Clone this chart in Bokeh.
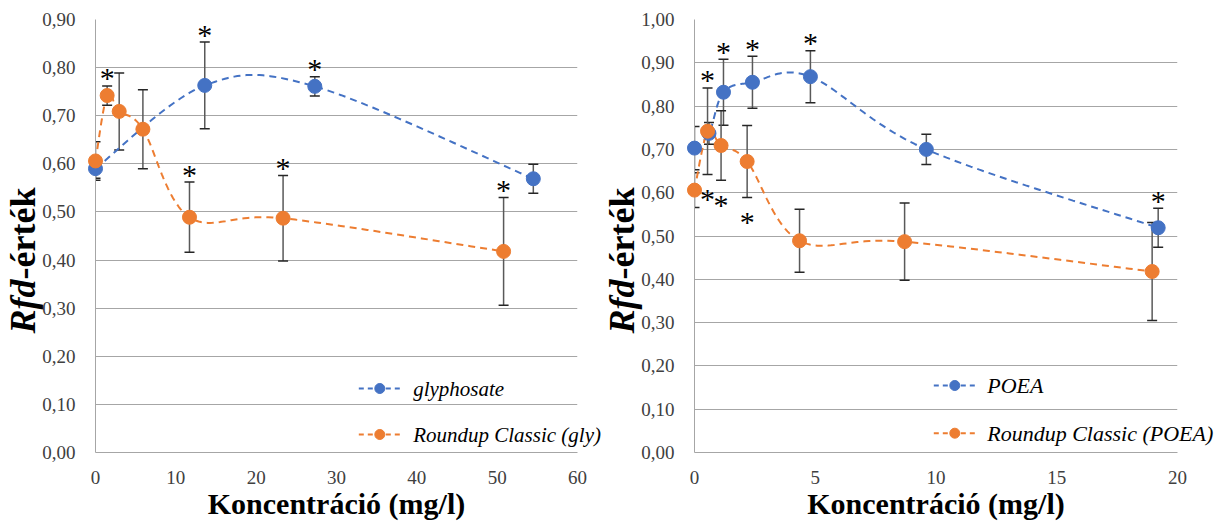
import math
import numpy as np
from bokeh.plotting import figure
from bokeh.models import (Range1d, FixedTicker, CustomJSTickFormatter, Whisker, ColumnDataSource,
                          TeeHead)
from bokeh.layouts import row
from bokeh.core.properties import value
from bokeh.embed import file_html
from bokeh.resources import INLINE

# ---------------- data (left panel) ----------------
gly_x = [0, 13.6, 27.3, 54.5]
gly_y = [0.590, 0.763, 0.761, 0.569]
gly_err = [0.020, 0.090, 0.020, 0.030]
gly_star_above = [1, 2]

rc_gly_x = [0, 1.45, 2.95, 5.9, 11.7, 23.35, 50.8]
rc_gly_y = [0.606, 0.742, 0.709, 0.672, 0.489, 0.487, 0.418]
rc_gly_err = [0.040, 0.020, 0.080, 0.082, 0.073, 0.089, 0.112]
rc_gly_star_above = [1, 4, 5, 6]

left_x_ticks = [0, 10, 20, 30, 40, 50, 60]
left_y_ticks = [0.0, 0.1, 0.2, 0.3, 0.4, 0.5, 0.6, 0.7, 0.8, 0.9]

# ---------------- data (right panel) ----------------
poea_x = [0, 0.6, 1.2, 2.4, 4.8, 9.6, 19.2]
poea_y = [0.703, 0.737, 0.832, 0.855, 0.868, 0.700, 0.519]
poea_err = [0.050, 0.025, 0.076, 0.060, 0.060, 0.035, 0.045]
poea_star_above = [2, 3, 4, 6]

rc_poea_x = [0, 0.54, 1.1, 2.18, 4.35, 8.7, 18.95]
rc_poea_y = [0.606, 0.742, 0.709, 0.672, 0.489, 0.487, 0.418]
rc_poea_err = [0.040, 0.100, 0.080, 0.083, 0.073, 0.089, 0.113]
rc_poea_star_above = [1]
rc_poea_star_below = [1, 2, 3]

right_x_ticks = [0, 5, 10, 15, 20]
right_y_ticks = [0.0, 0.1, 0.2, 0.3, 0.4, 0.5, 0.6, 0.7, 0.8, 0.9, 1.0]

x_title = "Koncentráció (mg/l)"
y_title_italic = "Rfd"
y_title_rest = "-érték"
BLUE = "#4472C4"
ORANGE = "#ED7D31"
FONT = "Liberation Serif"
HEIGHT = 523
TOP = 19
BOTTOM = 71
YT_SIZE = 36


def smooth(xs, ys, n=30):
    """Excel-style smoothed line (cubic Bezier through the points)."""
    pts = list(zip(xs, ys))
    N = len(pts)
    ox, oy = [], []
    for i in range(N - 1):
        p0 = pts[i - 1] if i > 0 else pts[i]
        p1 = pts[i]
        p2 = pts[i + 1]
        p3 = pts[i + 2] if i + 2 < N else pts[i + 1]
        c1 = (p1[0] + (p2[0] - p0[0]) / 6, p1[1] + (p2[1] - p0[1]) / 6)
        c2 = (p2[0] - (p3[0] - p1[0]) / 6, p2[1] - (p3[1] - p1[1]) / 6)
        for t in np.linspace(0, 1, n, endpoint=(i == N - 2)):
            a, b, c, d = (1 - t) ** 3, 3 * (1 - t) ** 2 * t, 3 * (1 - t) * t ** 2, t ** 3
            ox.append(a * p1[0] + b * c1[0] + c * c2[0] + d * p2[0])
            oy.append(a * p1[1] + b * c1[1] + c * c2[1] + d * p2[1])
    return ox, oy


def add_series(p, xs, ys, errs, color, above, below):
    sx, sy = smooth(xs, ys)
    p.line(sx, sy, line_color=color, line_width=2, line_dash="7 5")
    src = ColumnDataSource(dict(x=xs, y=ys,
                                upper=[y + e for y, e in zip(ys, errs)],
                                lower=[y - e for y, e in zip(ys, errs)]))
    w = Whisker(source=src, base="x", upper="upper", lower="lower",
                line_color="#595959", line_width=1.5,
                upper_head=TeeHead(size=10, line_color="#262626", line_width=1.5),
                lower_head=TeeHead(size=10, line_color="#262626", line_width=1.5))
    p.add_layout(w)
    p.scatter("x", "y", source=src, size=14, fill_color=color, line_color=color,
              level="annotation")
    star = dict(text_font=value(FONT), text_font_size="30px", text_align="center",
                text_baseline="middle", text_color="black", level="annotation")
    if above:
        p.text([xs[i] for i in above], [ys[i] + errs[i] for i in above],
               text=["*"] * len(above), y_offset=-8, **star)
    if below:
        p.text([xs[i] for i in below], [ys[i] - errs[i] for i in below],
               text=["*"] * len(below), y_offset=24, **star)


def make_panel(origin, width, bl, br, xmax, ymax, xticks, yticks, series, leg_px, leg_size,
               ylab_px):
    p = figure(width=width, height=HEIGHT, output_backend="svg", toolbar_location=None,
               x_range=Range1d(0, xmax), y_range=Range1d(0, ymax),
               min_border_left=bl, min_border_right=br, min_border_top=TOP,
               min_border_bottom=BOTTOM)
    p.outline_line_color = None
    p.xgrid.visible = False
    p.ygrid.grid_line_color = "#a6a6a6"
    p.ygrid.grid_line_width = 1
    p.xaxis.ticker = FixedTicker(ticks=xticks)
    p.yaxis.ticker = FixedTicker(ticks=yticks)
    p.yaxis.formatter = CustomJSTickFormatter(code="return tick.toFixed(2).replace('.', ',');")
    for ax in (p.xaxis, p.yaxis):
        ax.axis_line_color = "#a6a6a6"
        ax.major_tick_line_color = None
        ax.minor_tick_line_color = None
        ax.major_label_text_font = FONT
        ax.major_label_text_font_size = "19px"
        ax.major_label_text_color = "#404040"
    p.yaxis.major_label_standoff = 14
    p.xaxis.major_label_standoff = 12
    p.xaxis.axis_label = x_title
    p.xaxis.axis_label_text_font = FONT
    p.xaxis.axis_label_text_font_size = "30px"
    p.xaxis.axis_label_text_font_style = "bold"
    p.xaxis.axis_label_text_color = "black"
    p.xaxis.axis_label_standoff = 0

    # pixel -> data helpers (page pixels)
    fl = origin + bl
    fw = width - bl - br
    fb = HEIGHT - BOTTOM
    fh = HEIGHT - BOTTOM - TOP
    dx = lambda px: (px - fl) / fw * xmax
    dy = lambda py: (fb - py) / fh * ymax

    for (xs, ys, errs, color, label, above, below) in series:
        add_series(p, xs, ys, errs, color, above, below)

    # legend (drawn manually so it may run past the plot frame, as in the original)
    gx0, tx, rows_y = leg_px
    for (xs, ys, errs, color, label, above, below), cy in zip(series, rows_y):
        p.segment(x0=[dx(gx0)], y0=[dy(cy)], x1=[dx(gx0 + 42)], y1=[dy(cy)],
                  line_color=color, line_width=2, line_dash="5 4", level="overlay")
        p.scatter([dx(gx0 + 21)], [dy(cy)], size=10, fill_color=color, line_color=color,
                  level="overlay")
        p.text([dx(tx)], [dy(cy)], text=[label], text_font=value(FONT),
               text_font_style="italic", text_font_size=leg_size, text_baseline="middle",
               text_align="left", text_color="black", level="overlay")

    # y title: italic "Rfd" + bold "-érték", rotated
    baseline_x, y_start = ylab_px
    lx = baseline_x - 0.3375 * YT_SIZE
    mid = (TOP + fb) / 2
    anchor_y = dy(mid)
    common = dict(angle=math.pi / 2, x_offset=lx - fl, text_font=value(FONT),
                  text_font_size=f"{YT_SIZE}px", text_align="left", text_baseline="middle",
                  text_color="black", level="overlay")
    p.text([0], [anchor_y], text=[y_title_italic], y_offset=y_start - mid,
           text_font_style="bold italic", **common)
    p.text([0], [anchor_y], text=[y_title_rest], y_offset=y_start - 1.5 * YT_SIZE - mid,
           text_font_style="bold", **common)
    return p


left = make_panel(0, 601, 95, 24, 60, 0.9, left_x_ticks, left_y_ticks,
                  [(gly_x, gly_y, gly_err, BLUE, "glyphosate", gly_star_above, []),
                   (rc_gly_x, rc_gly_y, rc_gly_err, ORANGE, "Roundup Classic (gly)",
                    rc_gly_star_above, [])],
                  (358.3, 412.7, (388, 434)), "21px", (35, 333))
right = make_panel(601, 628, 93, 52, 20, 1.0, right_x_ticks, right_y_ticks,
                   [(poea_x, poea_y, poea_err, BLUE, "POEA", poea_star_above, []),
                    (rc_poea_x, rc_poea_y, rc_poea_err, ORANGE, "Roundup Classic (POEA)",
                     rc_poea_star_above, rc_poea_star_below)],
                   (933.3, 986.7, (385, 432.7)), "22px", (634, 333))

layout = row(left, right)
open("out.html", "w").write(file_html(layout, INLINE))
